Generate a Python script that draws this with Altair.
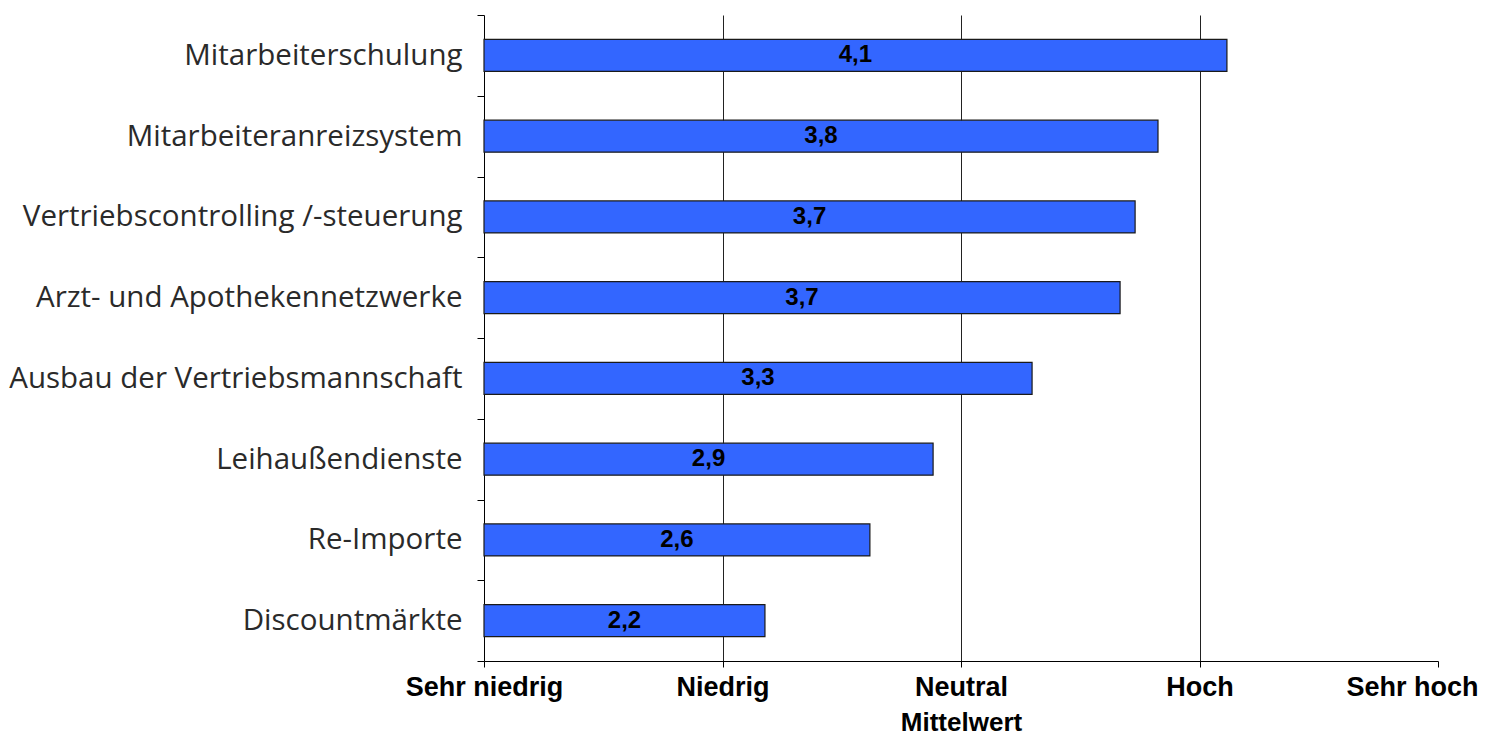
import altair as alt
import pandas as pd

kategorien = [
    "Mitarbeiterschulung",
    "Mitarbeiteranreizsystem",
    "Vertriebscontrolling /-steuerung",
    "Arzt- und Apothekennetzwerke",
    "Ausbau der Vertriebsmannschaft",
    "Leihaußendienste",
    "Re-Importe",
    "Discountmärkte",
]
werte = [4.115, 3.826, 3.73, 3.667, 3.298, 2.883, 2.618, 2.178]
beschriftung = ["4,1", "3,8", "3,7", "3,7", "3,3", "2,9", "2,6", "2,2"]
skala_werte = [1, 2, 3, 4, 5]
skala_namen = ["Sehr niedrig", "Niedrig", "Neutral", "Hoch", "Sehr hoch"]

df = pd.DataFrame({"kategorie": kategorien, "wert": werte, "label": beschriftung})
df["basis"] = 1

label_expr = " : ".join(
    f"datum.value == {v} ? '{n}'" for v, n in zip(skala_werte, skala_namen)
) + " : ''"

x_scale = alt.Scale(domain=[1, 5], nice=False, zero=False)
y_scale = alt.Scale(paddingInner=0, paddingOuter=0)

x_axis = alt.Axis(
    values=skala_werte,
    labelExpr=label_expr,
    title="Mittelwert",
    titleFont="Liberation Sans",
    titleFontSize=26,
    titleFontWeight="bold",
    titleColor="#000000",
    titlePadding=9,
    labelFont="Liberation Sans",
    labelFontSize=27,
    labelFontWeight="bold",
    labelColor="#000000",
    labelPadding=7,
    labelFlush=False,
    labelOverlap=False,
    labelOffset={"condition": {"test": "datum.value == 5", "value": -26}, "value": 0},
    domainColor="#000000",
    domainWidth=1,
    tickColor="#000000",
    tickSize=6,
    grid=True,
    gridColor="#222222",
    gridWidth=1,
    gridOpacity={"condition": {"test": "datum.value == 5 || datum.value == 1", "value": 0}, "value": 1},
)

y_axis = alt.Axis(
    title=None,
    labelFont="Open Sans",
    labelFontSize=29.5,
    labelColor="#2a2a2a",
    labelPadding=15,
    labelLimit=700,
    tickBand="extent",
    tickSize=7,
    tickColor="#000000",
    domainColor="#000000",
    domainWidth=1,
    grid=False,
)

base = alt.Chart(df)

bars = base.mark_bar(size=32, color="#3366FF", stroke="#1a1a1a", strokeWidth=1.2).encode(
    y=alt.Y("kategorie:N", sort=kategorien, scale=y_scale, axis=y_axis),
    x=alt.X("basis:Q", scale=x_scale, axis=x_axis),
    x2="wert:Q",
)

texts = base.transform_calculate(mitte="(datum.basis + datum.wert) / 2").mark_text(
    font="Liberation Sans", fontSize=24, fontWeight="bold", color="#000000", baseline="middle", align="center"
).encode(
    y=alt.Y("kategorie:N", sort=kategorien, scale=y_scale),
    x=alt.X("mitte:Q", scale=x_scale),
    text="label:N",
)

chart = (
    alt.layer(bars, texts)
    .properties(
        width=954,
        height=646,
        autosize=alt.AutoSizeParams(type="none"),
        padding={"left": 484, "top": 15, "right": 56, "bottom": 74},
        background="#ffffff",
    )
    .configure_view(stroke=None)
)

chart.save("out.html", embed_options={"renderer": "svg", "actions": False})
